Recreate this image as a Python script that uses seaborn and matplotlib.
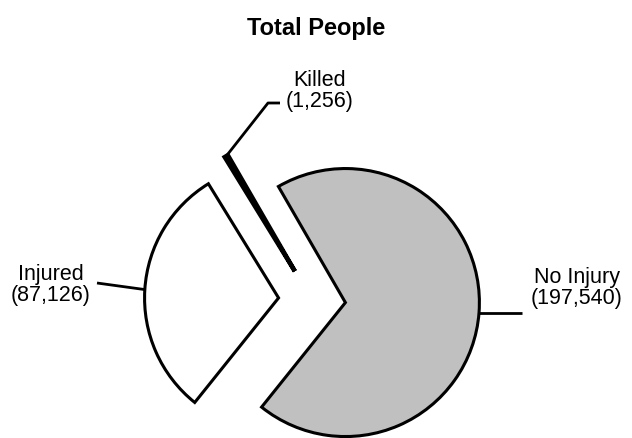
import numpy as np
import pandas as pd
import matplotlib.pyplot as plt
import seaborn as sns

# Data: total people by injury outcome
categories = ['No Injury', 'Injured', 'Killed']
people = [197540, 87126, 1256]
slice_colors = ['#c0c0c0', '#ffffff', '#ffffff']

sns.set_style('white')
plt.rcParams['font.family'] = ['Liberation Sans', 'DejaVu Sans']
plt.rcParams['text.color'] = 'black'

fig = plt.figure(figsize=(6.32, 4.38), dpi=100)
ax = fig.add_axes([0, 0, 1, 1])

wedges, _ = ax.pie(people, colors=slice_colors, startangle=120, counterclock=False,
                   explode=[0.25, 0.25, 0.25], radius=1,
                   wedgeprops=dict(edgecolor='black', linewidth=2.2))
# the tiny Killed slice shows as a solid heavy stroke
wedges[2].set_linewidth(3.2)

# map pie units onto the pixel layout of the picture
scale = 134
cx, cy = 312, 300
ax.set_xlim(-cx / scale, (632 - cx) / scale)
ax.set_ylim(-(438 - cy) / scale, cy / scale)
ax.axis('off')


def px(x, y):
    # pixel position (from top-left) -> pie units
    return (x - cx) / scale, (cy - y) / scale


def arc_point(w):
    tm = np.deg2rad((w.theta1 + w.theta2) / 2)
    return w.center[0] + w.r * np.cos(tm), w.center[1] + w.r * np.sin(tm)


labels = [f'{c}\n({v:,})' for c, v in zip(categories, people)]
line_kw = dict(color='black', lw=2.0, solid_capstyle='butt')
txt_kw = dict(fontsize=15.5, ha='center', va='center', linespacing=1.05, color='black')

# No Injury
x0, y0 = arc_point(wedges[0])
x1, _ = px(522, 0)
ax.plot([x0, x1], [y0, y0], **line_kw)
ax.text(*px(577, 288), labels[0], **txt_kw)

# Injured
x0, y0 = arc_point(wedges[1])
ax.plot([x0, px(97, 283)[0]], [y0, px(97, 283)[1]], **line_kw)
ax.text(*px(51, 285), labels[1], **txt_kw)

# Killed
x0, y0 = arc_point(wedges[2])
ex, ey = px(268, 103)
hx, _ = px(280, 103)
ax.plot([x0, ex, hx], [y0, ey, ey], **line_kw)
ax.text(*px(320, 91), labels[2], **txt_kw)

ax.set_title('Total People', fontsize=17, fontweight='bold', color='black', y=0.9)

fig.savefig('out.png', dpi=100)
